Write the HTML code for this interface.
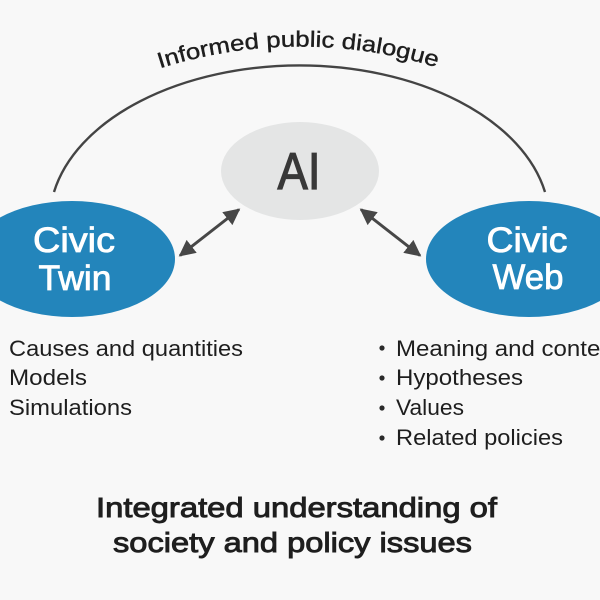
<!DOCTYPE html>
<html>
<head>
<meta charset="utf-8">
<style>
  html, body { margin: 0; padding: 0; background: #f8f8f8; }
  svg { display: block; }
  text { font-family: "Liberation Sans", "DejaVu Sans", sans-serif; }
</style>
</head>
<body>
<svg width="600" height="600" viewBox="0 0 600 600" xmlns="http://www.w3.org/2000/svg">
  <defs>
    <marker id="ah" viewBox="0 0 10 10" refX="9" refY="5" markerWidth="5.5" markerHeight="5.5" orient="auto-start-reverse" markerUnits="strokeWidth">
      <path d="M0,0 L10,5 L0,10 Z" fill="#474747"/>
    </marker>
    <path id="tp" d="M158,69 A460,460 0 0 1 442,69"/>
  </defs>
  <rect width="600" height="600" fill="#f8f8f8"/>

  <!-- top arc -->
  <path d="M54,192 A250,156 0 0 1 545,192" fill="none" stroke="#444" stroke-width="2.4"/>
  <text font-size="22" fill="#1e1e1e" stroke="#1e1e1e" stroke-width="0.4">
    <textPath href="#tp" startOffset="2" textLength="281" lengthAdjust="spacingAndGlyphs">Informed public dialogue</textPath>
  </text>

  <!-- AI node -->
  <ellipse cx="300" cy="171" rx="79" ry="49" fill="#e4e5e5"/>
  <text x="299" y="189" font-size="52" text-anchor="middle" fill="#383838" stroke="#383838" stroke-width="1.2" textLength="43" lengthAdjust="spacingAndGlyphs">AI</text>

  <!-- Civic Twin -->
  <ellipse cx="72" cy="259" rx="103" ry="58" fill="#2385bb"/>
  <text x="74" y="252" font-size="35" text-anchor="middle" fill="#ffffff" stroke="#ffffff" stroke-width="0.8" textLength="82" lengthAdjust="spacingAndGlyphs">Civic</text>
  <text x="75" y="290" font-size="35" text-anchor="middle" fill="#ffffff" stroke="#ffffff" stroke-width="0.8" textLength="73" lengthAdjust="spacingAndGlyphs">Twin</text>

  <!-- Civic Web -->
  <ellipse cx="529" cy="259" rx="103" ry="58" fill="#2385bb"/>
  <text x="527" y="252" font-size="35" text-anchor="middle" fill="#ffffff" stroke="#ffffff" stroke-width="0.8" textLength="81" lengthAdjust="spacingAndGlyphs">Civic</text>
  <text x="528" y="289" font-size="35" text-anchor="middle" fill="#ffffff" stroke="#ffffff" stroke-width="0.8" textLength="71" lengthAdjust="spacingAndGlyphs">Web</text>

  <!-- arrows -->
  <line x1="180" y1="255.5" x2="239" y2="209.5" stroke="#474747" stroke-width="3" marker-start="url(#ah)" marker-end="url(#ah)"/>
  <line x1="361" y1="209.5" x2="420" y2="255.5" stroke="#474747" stroke-width="3" marker-start="url(#ah)" marker-end="url(#ah)"/>

  <!-- left list -->
  <g font-size="22" fill="#1e1e1e">
    <text x="9" y="356" textLength="234" lengthAdjust="spacingAndGlyphs">Causes and quantities</text>
    <text x="9" y="385" textLength="78" lengthAdjust="spacingAndGlyphs">Models</text>
    <text x="9" y="415" textLength="123" lengthAdjust="spacingAndGlyphs">Simulations</text>
  </g>

  <!-- right list -->
  <g fill="#2a2a2a">
    <circle cx="382" cy="348" r="2.6"/>
    <circle cx="382" cy="378" r="2.6"/>
    <circle cx="382" cy="408" r="2.6"/>
    <circle cx="382" cy="438" r="2.6"/>
  </g>
  <g font-size="22" fill="#1e1e1e">
    <text x="396" y="356" textLength="223" lengthAdjust="spacingAndGlyphs">Meaning and context</text>
    <text x="396" y="385" textLength="127" lengthAdjust="spacingAndGlyphs">Hypotheses</text>
    <text x="396" y="415" textLength="68" lengthAdjust="spacingAndGlyphs">Values</text>
    <text x="396" y="445" textLength="167" lengthAdjust="spacingAndGlyphs">Related policies</text>
  </g>

  <!-- bottom summary -->
  <g font-size="28" fill="#1e1e1e" stroke="#1e1e1e" stroke-width="0.9">
    <text x="96" y="517" textLength="401" lengthAdjust="spacingAndGlyphs">Integrated understanding of</text>
    <text x="113" y="552" textLength="359" lengthAdjust="spacingAndGlyphs">society and policy issues</text>
  </g>
</svg>
</body>
</html>
